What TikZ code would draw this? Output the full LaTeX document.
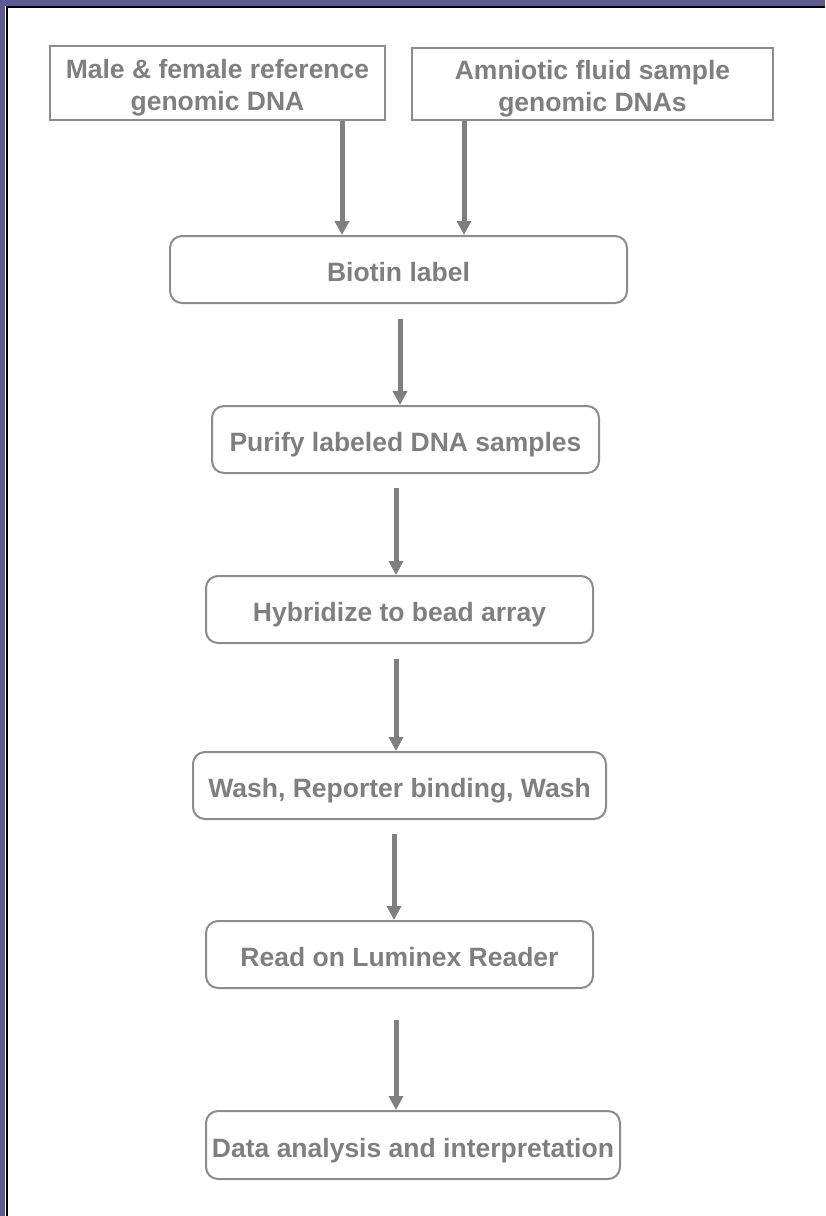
\documentclass[tikz,border=0pt]{standalone}
\usepackage{fontspec}
\setmainfont{Liberation Sans}
\usepackage{tikz}
\usetikzlibrary{arrows.meta}
\usetikzlibrary{positioning}
\definecolor{slidebg}{HTML}{5C5C90}
\definecolor{txtgray}{HTML}{7F7F7F}
\definecolor{boxgray}{HTML}{8C8C8C}
\tikzset{
  srcbox/.style={draw=boxgray, line width=2pt, text=txtgray, align=center,
    font=\fontsize{26.5}{32}\selectfont\bfseries, inner sep=0pt,
    text height=57pt, text depth=2pt},
  stepbox/.style={srcbox, rounded corners=12pt, text height=27pt, text depth=3pt},
  flow/.style={draw=txtgray, line width=5pt, -{Triangle[width=14pt,length=14pt]}},
}
\begin{document}
\begin{tikzpicture}[x=1pt,y=-1pt]
\path[use as bounding box] (0,0) rectangle (825,1216);
% slide frame
\fill[slidebg] (0,0) rectangle (825,6);
\fill[slidebg] (0,0) rectangle (5,1216);
\draw[black, line width=2pt] (825,7) -- (6.5,7) -- (6.5,1216);
% input samples
\path node[srcbox, minimum width=335pt, minimum height=74pt] (male) at (217.5,83) {Male \& female reference\\genomic DNA};
\path node[srcbox, minimum width=361pt, minimum height=72pt] (amnio) at (592.5,84) {Amniotic fluid sample\\genomic DNAs};
% processing chain
\path node[stepbox, minimum width=457pt, minimum height=67pt] (bio) at (398.5,269.5) {Biotin label};
\path node[stepbox, minimum width=387pt, minimum height=67pt] (pur) at (405.5,439.5) {Purify labeled DNA samples};
\path node[stepbox, minimum width=387pt, minimum height=67pt] (hyb) at (399.5,609.5) {Hybridize to bead array};
\path node[stepbox, minimum width=413pt, minimum height=67pt] (wash) at (399.5,785.5) {Wash, Reporter binding, Wash};
\path node[stepbox, minimum width=387pt, minimum height=67pt] (read) at (399.5,954.5) {Read on Luminex Reader};
\path node[stepbox, minimum width=414pt, minimum height=68pt] (data) at (413,1145) {Data analysis and interpretation};
% arrows
\draw[flow] ([xshift=124.5pt]male.south) -- ([xshift=124.5pt]male.south |- bio.north);
\draw[flow] ([xshift=-128.5pt]amnio.south) -- ([xshift=-128.5pt]amnio.south |- bio.north);
\draw[flow, shorten <=15pt] ([xshift=1.5pt]bio.south) -- ([xshift=1.5pt]bio.south |- pur.north);
\draw[flow, shorten <=14pt] ([xshift=-9.5pt]pur.south) -- ([xshift=-9.5pt]pur.south |- hyb.north);
\draw[flow, shorten <=15pt] ([xshift=-3.5pt]hyb.south) -- ([xshift=-3.5pt]hyb.south |- wash.north);
\draw[flow, shorten <=14pt] ([xshift=-5.5pt]wash.south) -- ([xshift=-5.5pt]wash.south |- read.north);
\draw[flow, shorten <=31pt] ([xshift=-3.5pt]read.south) -- ([xshift=-3.5pt]read.south |- data.north);
\end{tikzpicture}
\end{document}
